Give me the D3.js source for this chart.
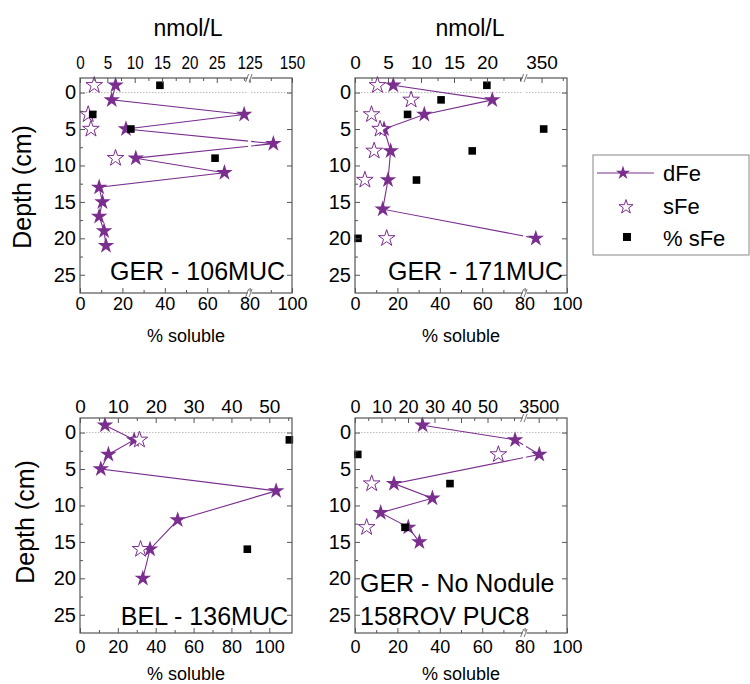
<!DOCTYPE html>
<html>
<head>
<meta charset="utf-8" />
<title></title>
<style>
html, body {
    padding: 0px;
    margin: 0px;
    background: #fff;
}
svg text {
    font-family: "Liberation Sans", Arial, sans-serif;
}
</style>
</head>
<body>
<svg id="chart" width="750" height="684"></svg>

<script src="https://cdnjs.cloudflare.com/ajax/libs/d3/7.8.5/d3.min.js"></script>
<script>
// ---- data ----
// GER - 106MUC
var depth106 = [-1, 1, 3, 5, 7, 9, 11, 13, 15, 17, 19, 21];
var dFe106 = [6.5, 5.8, 30, 8.4, 139, 10.2, 26.4, 3.5, 4.1, 3.5, 4.4, 4.75];
var sDepth106 = [-1, 3, 5, 9];
var sFe106 = [2.6, 1.5, 2.0, 6.5];
var pct106 = [37.7, 6.0, 24, 63.7];

// GER - 171MUC
var depth171 = [-1, 1, 3, 5, 8, 12, 16, 20];
var dFe171 = [5.8, 20.8, 10.5, 4.4, 5.4, 5.0, 4.2, 346.6];
var sDepth171 = [-1, 1, 3, 5, 8, 12, 20];
var sFe171 = [3.4, 8.5, 2.5, 3.8, 2.9, 1.5, 4.8];
var pct171 = [62.2, 40.6, 24.8, 89, 55.3, 29, 1.4];

// BEL - 136MUC
var depth136 = [-1, 1, 3, 5, 8, 12, 16, 20];
var dFe136 = [6.6, 14.3, 7.5, 5.5, 51.8, 25.8, 18.5, 16.6];
var sDepth136 = [1, 16];
var sFe136 = [15.7, 16.0];
var pct136 = [110.6, 88.4];

// GER - No Nodule 158ROV PUC8
var depth158 = [-1, 1, 3, 7, 9, 11, 13, 15];
var dFe158 = [25.5, 60.4, 3504, 14.7, 29.2, 9.7, 20.1, 24.3];
var sDepth158 = [3, 7, 13];
var sFe158 = [54.1, 6.3, 4.4];
var pct158 = [1.3, 44.8, 23.6];

// tick labels
var topTicks106 = [0, 5, 10, 15, 20, 25, 125, 150];
var topTicks171 = [0, 5, 10, 15, 20, 350];
var topTicks136 = [0, 10, 20, 30, 40, 50];
var topTicks158 = [0, 10, 20, 30, 40, 50, 3500];
var solubleTicks = [0, 20, 40, 60, 80, 100];
var depthTicks = [0, 5, 10, 15, 20, 25];

var legendNames = ["dFe", "sFe", "% sFe"];

// ---- layout ----
var purple = "#7a2e8e";
var axisGray = "#555";
var depthDomain = [-2, 27.5];

var panels = [
    {x0: 80, x1: 292, y0: 78, y1: 293, lo: [0, 31], hi: [125, 150], hiMinor: [137.5],
     bot: [0, 100], brk: 80, top: topTicks106, minorStep: 2.5, topPad: 9, botPad: 4, squeeze: 0.8,
     depth: depth106, dFe: dFe106, sDepth: sDepth106, sFe: sFe106, pct: pct106,
     label: [{t: "GER - 106MUC", x: 285, y: 280, a: "end"}]},
    {x0: 355, x1: 567, y0: 78, y1: 293, lo: [0, 25.7], hi: [340, 365], hiMinor: [362.5],
     bot: [0, 100], brk: 80, top: topTicks171, minorStep: 2.5, topPad: 9, botPad: 4, squeeze: 1,
     depth: depth171, dFe: dFe171, sDepth: sDepth171, sFe: sFe171, pct: pct171,
     label: [{t: "GER - 171MUC", x: 563, y: 280, a: "end"}]},
    {x0: 80, x1: 292, y0: 418, y1: 633, lo: [0, 56], hi: null, hiMinor: [],
     bot: [0, 112], brk: null, top: topTicks136, minorStep: 5, topPad: 5, botPad: 7, squeeze: 1,
     depth: depth136, dFe: dFe136, sDepth: sDepth136, sFe: sFe136, pct: pct136,
     label: [{t: "BEL - 136MUC", x: 288, y: 625, a: "end"}]},
    {x0: 355, x1: 567, y0: 418, y1: 633, lo: [0, 64], hi: [3400, 3700], hiMinor: [3625],
     bot: [0, 100], brk: 80, top: topTicks158, minorStep: 5, topPad: 5, botPad: 7, squeeze: 0.95,
     depth: depth158, dFe: dFe158, sDepth: sDepth158, sFe: sFe158, pct: pct158,
     label: [{t: "GER - No Nodule", x: 360, y: 592, a: "start"},
             {t: "158ROV PUC8", x: 360, y: 625, a: "start"}]}
];

var svg = d3.select("#chart");
var starBig = d3.symbol().type(d3.symbolStar).size(85);
var starLegend = d3.symbol().type(d3.symbolStar).size(62);

// scale with an axis break at 80% of the width
function brokenScale(lo, hi, x0, x1) {
    var xb = hi ? x0 + 0.8 * (x1 - x0) : x1;
    var sLo = d3.scaleLinear().domain(lo).range([x0, xb]);
    var sHi = hi ? d3.scaleLinear().domain(hi).range([xb, x1]) : null;
    var f = function(v) { return (sHi && v > lo[1]) ? sHi(v) : sLo(v); };
    f.lo = sLo; f.hi = sHi; f.xb = hi ? xb : null;
    return f;
}

function styleAxis(g, size) {
    g.select(".domain").remove();
    g.attr("font-size", size).attr("font-family", null).attr("color", "#000");
    g.selectAll(".tick line").attr("stroke", axisGray);
}

function breakMark(g, x, y) {
    g.append("rect").attr("x", x - 2).attr("y", y - 1.5).attr("width", 4).attr("height", 3).attr("fill", "#fff");
    [-2, 1.5].forEach(function(o) {
        g.append("line")
            .attr("x1", x + o - 2).attr("y1", y + 4)
            .attr("x2", x + o + 1).attr("y2", y - 4)
            .attr("stroke", axisGray).attr("stroke-width", 0.8);
    });
}

panels.forEach(function(p) {
    var g = svg.append("g");
    var xTop = brokenScale(p.lo, p.hi, p.x0, p.x1);
    var xBot = d3.scaleLinear().domain(p.bot).range([p.x0, p.x1]);
    var y = d3.scaleLinear().domain(depthDomain).range([p.y0, p.y1]);

    // zero line
    g.append("line")
        .attr("x1", p.x0).attr("x2", p.x1).attr("y1", y(0)).attr("y2", y(0))
        .attr("stroke", "#aaa").attr("stroke-width", 0.8).attr("stroke-dasharray", "1.5,1.5");

    var pts = p.depth.map(function(d, i) { return [xTop(p.dFe[i]), y(d)]; });
    g.append("path")
        .attr("d", d3.line()(pts))
        .attr("fill", "none").attr("stroke", purple).attr("stroke-width", 1.1);

    // the line is interrupted where it crosses the break
    if (xTop.xb) {
        g.append("rect")
            .attr("x", xTop.xb - 1.5).attr("y", p.y0 + 1).attr("width", 3).attr("height", p.y1 - p.y0 - 2)
            .attr("fill", "#fff");
    }

    g.selectAll(".dfe").data(pts).enter().append("path")
        .attr("transform", function(d) { return "translate(" + d[0] + "," + d[1] + ")"; })
        .attr("d", starBig).attr("fill", purple);

    g.selectAll(".sfe").data(p.sDepth).enter().append("path")
        .attr("transform", function(d, i) { return "translate(" + xTop(p.sFe[i]) + "," + y(d) + ")"; })
        .attr("d", starBig).attr("fill", "#fff").attr("stroke", purple).attr("stroke-width", 1);

    g.selectAll(".pct").data(p.sDepth).enter().append("rect")
        .attr("x", function(d, i) { return xBot(p.pct[i]) - 3.8; })
        .attr("y", function(d) { return y(d) - 3.8; })
        .attr("width", 7.6).attr("height", 7.6).attr("fill", "#000");

    // top axis (nmol/L), one axis per segment
    var segs = [[xTop.lo, p.lo, p.minorStep]];
    if (xTop.hi) segs.push([xTop.hi, p.hi, null]);
    segs.forEach(function(s) {
        var sc = s[0], dom = s[1];
        var majors = p.top.filter(function(v) { return v >= dom[0] && v <= dom[1]; });
        var minors = s[2] ? d3.range(dom[0], dom[1] + 0.001, s[2]).filter(function(v) { return majors.indexOf(v) < 0; }) : p.hiMinor;
        var gm = g.append("g").attr("transform", "translate(0," + p.y0 + ")")
            .call(d3.axisTop(sc).tickValues(minors).tickSize(-3).tickFormat(""));
        styleAxis(gm, 19);
        var ga = g.append("g").attr("transform", "translate(0," + p.y0 + ")")
            .call(d3.axisTop(sc).tickValues(majors).tickSize(-5).tickPadding(p.topPad).tickFormat(d3.format("d")));
        styleAxis(ga, 19);
        ga.selectAll("text").attr("transform", "scale(" + p.squeeze + ",1)");
    });

    // bottom axis (% soluble)
    var botMinor = d3.range(10, 100, 20);
    var gbm = g.append("g").attr("transform", "translate(0," + p.y1 + ")")
        .call(d3.axisBottom(xBot).tickValues(botMinor).tickSize(-3).tickFormat(""));
    styleAxis(gbm, 18);
    var gb = g.append("g").attr("transform", "translate(0," + p.y1 + ")")
        .call(d3.axisBottom(xBot).tickValues(solubleTicks).tickSize(-5).tickPadding(p.botPad));
    styleAxis(gb, 18);

    // left and right axes (depth)
    var depthMinor = d3.range(2.5, 27, 5);
    var glm = g.append("g").attr("transform", "translate(" + p.x0 + ",0)")
        .call(d3.axisLeft(y).tickValues(depthMinor).tickSize(-3).tickFormat(""));
    styleAxis(glm, 20);
    var gl = g.append("g").attr("transform", "translate(" + p.x0 + ",0)")
        .call(d3.axisLeft(y).tickValues(depthTicks).tickSize(-5).tickPadding(4));
    styleAxis(gl, 20);
    var gr = g.append("g").attr("transform", "translate(" + p.x1 + ",0)")
        .call(d3.axisRight(y).tickValues(depthTicks).tickSize(-5).tickFormat(""));
    styleAxis(gr, 20);

    // frame
    g.append("rect")
        .attr("x", p.x0).attr("y", p.y0).attr("width", p.x1 - p.x0).attr("height", p.y1 - p.y0)
        .attr("fill", "none").attr("stroke", axisGray).attr("stroke-width", 1.2);

    if (xTop.xb) {
        breakMark(g, xTop.xb, p.y0);
        breakMark(g, xBot(p.brk), p.y1);
    }

    p.label.forEach(function(l) {
        g.append("text").attr("x", l.x).attr("y", l.y).attr("text-anchor", l.a)
            .attr("font-size", 25).text(l.t);
    });

    g.append("text").attr("x", (p.x0 + p.x1) / 2).attr("y", p.y1 + (p.y0 < 200 ? 49 : 47))
        .attr("text-anchor", "middle").attr("font-size", 18).text("% soluble");
});

// axis titles
[[188, 36], [470, 36]].forEach(function(c) {
    svg.append("text").attr("x", c[0]).attr("y", c[1]).attr("text-anchor", "middle")
        .attr("font-size", 23).text("nmol/L");
});
[[31, 187], [34, 522]].forEach(function(c) {
    svg.append("text").attr("transform", "translate(" + c[0] + "," + c[1] + ") rotate(-90)")
        .attr("text-anchor", "middle").attr("font-size", 25).text("Depth (cm)");
});

// legend
var lg = svg.append("g");
lg.append("rect").attr("x", 593).attr("y", 155).attr("width", 156).attr("height", 100)
    .attr("fill", "#fff").attr("stroke", "#888").attr("stroke-width", 1);
lg.append("line").attr("x1", 597).attr("x2", 654).attr("y1", 173).attr("y2", 173)
    .attr("stroke", purple).attr("stroke-width", 1.1);
lg.append("path").attr("transform", "translate(623,173)").attr("d", starLegend).attr("fill", purple);
lg.append("path").attr("transform", "translate(626,207)").attr("d", starLegend)
    .attr("fill", "#fff").attr("stroke", purple).attr("stroke-width", 1);
lg.append("rect").attr("x", 623).attr("y", 233).attr("width", 8).attr("height", 8).attr("fill", "#000");
[181, 214, 246].forEach(function(yy, i) {
    lg.append("text").attr("x", 663).attr("y", yy).attr("font-size", 22).text(legendNames[i]);
});
</script>
</body>
</html>
